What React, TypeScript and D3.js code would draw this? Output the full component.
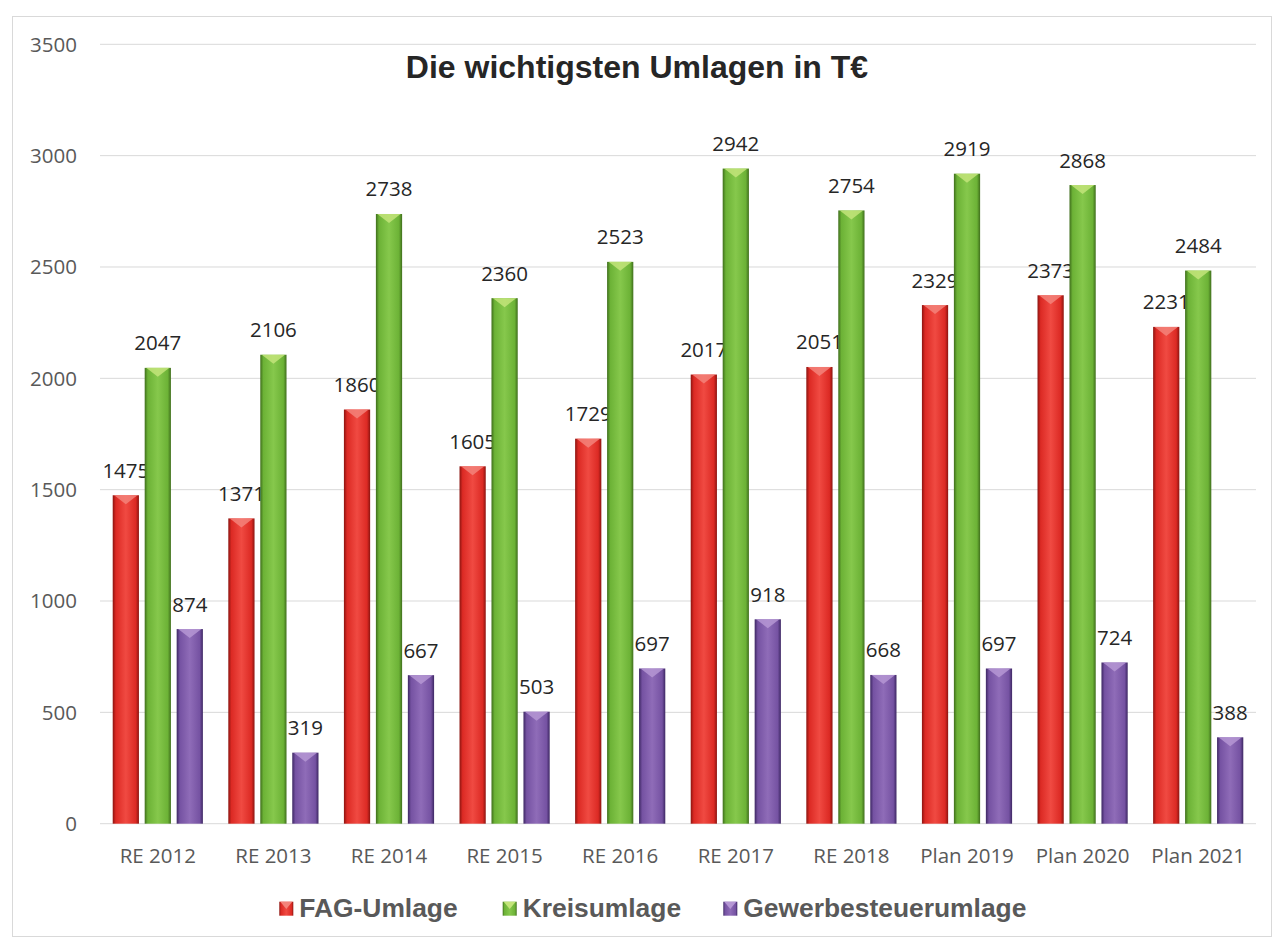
import React from "react";
import * as d3 from "d3";

const categories = ["RE 2012", "RE 2013", "RE 2014", "RE 2015", "RE 2016", "RE 2017", "RE 2018", "Plan 2019", "Plan 2020", "Plan 2021"];
const fagUmlage = [1475, 1371, 1860, 1605, 1729, 2017, 2051, 2329, 2373, 2231];
const kreisumlage = [2047, 2106, 2738, 2360, 2523, 2942, 2754, 2919, 2868, 2484];
const gewerbesteuerumlage = [874, 319, 667, 503, 697, 918, 668, 697, 724, 388];
const seriesNames = ["FAG-Umlage", "Kreisumlage", "Gewerbesteuerumlage"];
const yTicks = [0, 500, 1000, 1500, 2000, 2500, 3000, 3500];
const title = "Die wichtigsten Umlagen in T€";

const palettes = [
  { dark: "#8c1410", mid: "#dc2a24", light: "#f04a42", tip: "#f3837a" },
  { dark: "#3f6e1c", mid: "#6cb236", light: "#86c84c", tip: "#c3e47a" },
  { dark: "#3d2763", mid: "#7552a2", light: "#8f6cb8", tip: "#b597d4" },
];

export default function App() {
  const W = 1273, H = 938;
  const x0 = 100, x1 = 1256;
  const yTop = 44.3, yBot = 823.7;
  const seriesData = [fagUmlage, kreisumlage, gewerbesteuerumlage];

  const x = d3.scaleBand<string>().domain(categories).range([x0, x1]).paddingInner(0.22).paddingOuter(0.11);
  const y = d3.scaleLinear().domain([0, 3500]).range([yBot, yTop]);
  const xs = d3.scaleBand<string>().domain(seriesNames).range([0, x.bandwidth()]).paddingInner(0.18);
  const bw = xs.bandwidth();
  const numFont = "'Open Sans', sans-serif";
  const boldFont = "'Liberation Sans', Arial, sans-serif";

  const legend = [
    { mx: 279.3, tx: 299.3 },
    { mx: 502.7, tx: 522.7 },
    { mx: 723.3, tx: 743.3 },
  ];

  return (
    <svg width={W} height={H} style={{ position: "absolute", left: 0, top: 0, background: "#fff" }}>
      <defs>
        {palettes.map((p, i) => (
          <linearGradient key={i} id={`g${i}`} x1="0" x2="1" y1="0" y2="0">
            <stop offset="0" stopColor={p.dark} />
            <stop offset="0.12" stopColor={p.mid} />
            <stop offset="0.5" stopColor={p.light} />
            <stop offset="0.88" stopColor={p.mid} />
            <stop offset="1" stopColor={p.dark} />
          </linearGradient>
        ))}
      </defs>
      <rect x={12.5} y={16.5} width={1259} height={920} fill="#fff" stroke="#d9d9d9" strokeWidth={1} />
      {yTicks.map((t) => (
        <g key={t}>
          <line x1={x0} x2={x1} y1={y(t)} y2={y(t)} stroke="#d9d9d9" strokeWidth={1} />
          <text x={77} y={y(t)} dy="0.36em" textAnchor="end" fontFamily={numFont} fontSize={20.5} fill="#595959">{t}</text>
        </g>
      ))}
      <text x={637} y={78.3} textAnchor="middle" fontFamily={boldFont} fontWeight="bold" fontSize={32} fill="#262626">{title}</text>
      {categories.map((c, ci) => (
        <g key={c}>
          {seriesData.map((s, si) => {
            const bx = (x(c) as number) + (xs(seriesNames[si]) as number);
            const by = y(s[ci]);
            const h = yBot - by;
            const p = palettes[si];
            return (
              <g key={si}>
                <rect x={bx} y={by} width={bw} height={h} fill={`url(#g${si})`} />
                <polygon points={`${bx + 1.5},${by} ${bx + bw - 1.5},${by} ${bx + bw / 2},${by + 9}`} fill={p.tip} opacity={0.85} />
                <text x={bx + bw / 2} y={by - 17.5} textAnchor="middle" fontFamily={numFont} fontSize={20.5} fill="#262626">{s[ci]}</text>
              </g>
            );
          })}
          <text x={(x(c) as number) + x.bandwidth() / 2} y={863} textAnchor="middle" fontFamily={numFont} fontSize={20.5} fill="#595959">{c}</text>
        </g>
      ))}
      {legend.map((l, i) => (
        <g key={i}>
          <rect x={l.mx} y={901.7} width={14} height={14} fill={`url(#g${i})`} />
          <polygon points={`${l.mx + 1},901.7 ${l.mx + 13},901.7 ${l.mx + 7},909`} fill={palettes[i].tip} />
          <text x={l.tx} y={916.7} fontFamily={boldFont} fontWeight="bold" fontSize={26.4} fill="#595959">{seriesNames[i]}</text>
        </g>
      ))}
    </svg>
  );
}
